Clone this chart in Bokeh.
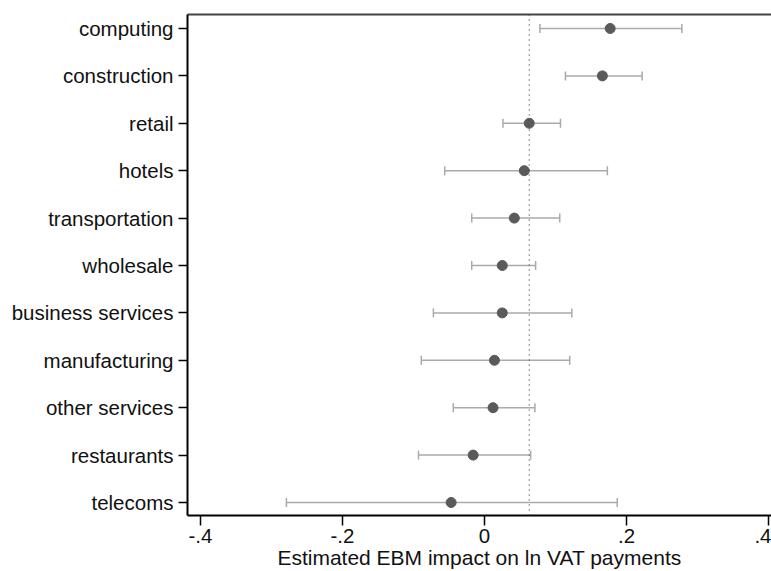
from bokeh.plotting import figure
from bokeh.models import (ColumnDataSource, Range1d, FixedTicker, LinearAxis, Span,
                          Whisker, TeeHead)
from bokeh.embed import file_html
from bokeh.resources import INLINE

# ---- data ----
categories = ["computing", "construction", "retail", "hotels", "transportation",
              "wholesale", "business services", "manufacturing", "other services",
              "restaurants", "telecoms"]
estimate = [0.177, 0.166, 0.063, 0.056, 0.042, 0.025, 0.025, 0.014, 0.012, -0.016, -0.047]
ci_low = [0.078, 0.114, 0.026, -0.056, -0.018, -0.018, -0.072, -0.089, -0.044, -0.093, -0.279]
ci_high = [0.278, 0.222, 0.107, 0.173, 0.106, 0.072, 0.123, 0.120, 0.071, 0.065, 0.187]
mean_line = 0.063
x_ticks = [-0.4, -0.2, 0.0, 0.2, 0.4]
x_tick_labels = ["-.4", "-.2", "0", ".2", ".4"]
x_title = "Estimated EBM impact on ln VAT payments"

n = len(categories)
ypos = [n - i for i in range(n)]

src = ColumnDataSource(dict(y=ypos, est=estimate, lo=ci_low, hi=ci_high, cat=categories))

FONT = "Liberation Sans"

p = figure(width=771, height=571, output_backend="svg", toolbar_location=None,
           x_range=Range1d(-0.4183, 0.4042), y_range=Range1d(0.726, 11.295),
           min_border_left=187, min_border_right=0, min_border_top=14, min_border_bottom=50,
           x_axis_location=None, y_axis_location=None)
p.outline_line_color = None
p.grid.visible = False
p.background_fill_color = "white"
p.border_fill_color = "white"

# bottom axis
xa = LinearAxis(ticker=FixedTicker(ticks=x_ticks),
                major_label_overrides={t: l for t, l in zip(x_ticks, x_tick_labels)},
                axis_label=x_title)
xa.axis_line_color = "black"
xa.axis_line_width = 2
xa.major_tick_line_color = "black"
xa.major_tick_line_width = 1.5
xa.major_tick_out = 10
xa.major_tick_in = 0
xa.minor_tick_line_color = None
xa.major_label_standoff = 3
xa.major_label_text_font = FONT
xa.major_label_text_font_size = "20.5px"
xa.major_label_text_color = "#111111"
xa.axis_label_standoff = 0
xa.axis_label_text_font = FONT
xa.axis_label_text_font_size = "21px"
xa.axis_label_text_font_style = "normal"
xa.axis_label_text_color = "#111111"
p.add_layout(xa, "below")

# left axis
ya = LinearAxis(ticker=FixedTicker(ticks=ypos),
                major_label_overrides={y: c for y, c in zip(ypos, categories)})
ya.axis_line_color = "black"
ya.axis_line_width = 2
ya.major_tick_line_color = "black"
ya.major_tick_line_width = 1.5
ya.major_tick_out = 9
ya.major_tick_in = 0
ya.minor_tick_line_color = None
ya.major_label_standoff = 5
ya.major_label_text_font = FONT
ya.major_label_text_font_size = "20.5px"
ya.major_label_text_color = "#111111"
p.add_layout(ya, "left")

# top frame line
ta = LinearAxis(ticker=FixedTicker(ticks=[]))
ta.axis_line_color = "#444444"
ta.axis_line_width = 2
ta.major_tick_line_color = None
ta.minor_tick_line_color = None
ta.major_label_text_font_size = "0px"
p.add_layout(ta, "above")

# reference dotted line
p.add_layout(Span(location=mean_line, dimension="height", line_color="#444444",
                  line_width=1.2, line_dash="1 4"))

# confidence intervals
w = Whisker(source=src, base="y", lower="lo", upper="hi", dimension="width",
            line_color="#aaaaaa", line_width=1.5,
            lower_head=TeeHead(size=9, line_color="#aaaaaa", line_width=1.5),
            upper_head=TeeHead(size=9, line_color="#aaaaaa", line_width=1.5))
p.add_layout(w)

# point estimates
p.scatter(x="est", y="y", source=src, size=10, fill_color="#5a5a5a",
          line_color="#5a5a5a")

open("out.html", "w").write(file_html(p, INLINE))
